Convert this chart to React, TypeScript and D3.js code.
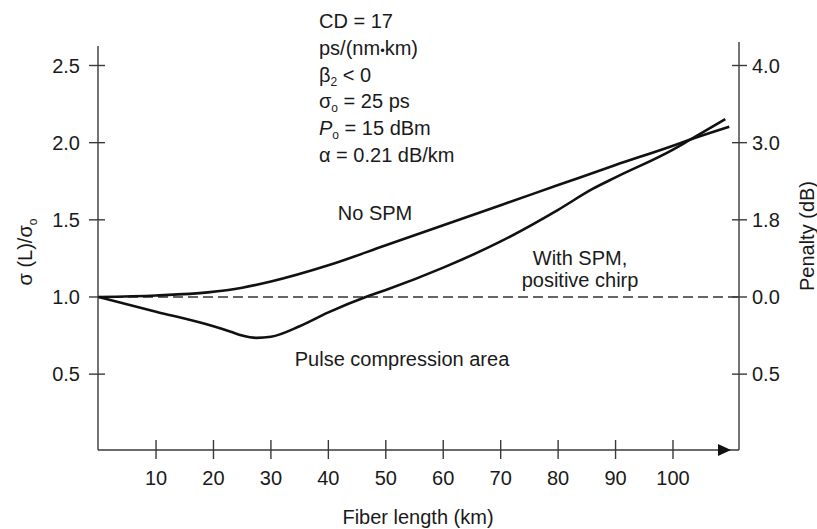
import React from "react";
import * as d3 from "d3";

const xTicks = [10, 20, 30, 40, 50, 60, 70, 80, 90, 100];
const yTicks = [0.5, 1.0, 1.5, 2.0, 2.5];
const yTickLabels = ["0.5", "1.0", "1.5", "2.0", "2.5"];
const rightTickLabels = ["0.5", "0.0", "1.8", "3.0", "4.0"];

const noSpmKm = [0, 10, 19, 25, 30, 40, 50, 60, 70, 80, 90, 100, 103, 109.8];
const noSpm = [1.0, 1.01, 1.03, 1.06, 1.1, 1.205, 1.335, 1.465, 1.595, 1.725, 1.855, 1.98, 2.02, 2.103];

const withSpmKm = [0, 10, 20, 23, 25, 27.5, 30, 35, 40, 46.5, 50, 60, 70, 80, 86, 90, 100, 103, 109.1];
const withSpm = [1.0, 0.905, 0.81, 0.775, 0.75, 0.735, 0.742, 0.81, 0.9, 1.0, 1.045, 1.19, 1.36, 1.565, 1.7, 1.775, 1.955, 2.02, 2.153];

const FONT = "'Liberation Sans', Arial, sans-serif";

export default function App() {
  const W = 817;
  const H = 529;
  const x = d3.scaleLinear().domain([0, 100]).range([98.6, 673]);
  const y = d3.scaleLinear().domain([0, 2.5]).range([451.3, 65.5]);
  const axisL = 98;
  const axisR = 739;
  const axisB = 450;

  const line = d3
    .line<[number, number]>()
    .x((d) => x(d[0]))
    .y((d) => y(d[1]))
    .curve(d3.curveMonotoneX);

  const noSpmPath = line(noSpmKm.map((k, i) => [k, noSpm[i]] as [number, number])) || "";
  const withSpmPath = line(withSpmKm.map((k, i) => [k, withSpm[i]] as [number, number])) || "";

  const axisColor = "#3a3a3a";
  const textColor = "#1a1a1a";
  const fs = 20;
  const annX = 319;
  const annY0 = 28;
  const annDy = 26.8;

  return (
    <svg width={W} height={H} style={{ position: "absolute", left: 0, top: 0 }} fontFamily={FONT}>
      <rect x={0} y={0} width={W} height={H} fill="#ffffff" />
      {/* axes */}
      <line x1={axisL} y1={46} x2={axisL} y2={axisB} stroke={axisColor} strokeWidth={1.4} />
      <line x1={axisR} y1={42} x2={axisR} y2={axisB} stroke={axisColor} strokeWidth={1.4} />
      <line x1={axisL} y1={axisB} x2={axisR} y2={axisB} stroke={axisColor} strokeWidth={1.4} />
      <path d={`M718,${axisB - 6} L731,${axisB} L718,${axisB + 6} Z`} fill="#111" />

      {/* dashed reference */}
      <line
        x1={axisL}
        y1={y(1)}
        x2={axisR}
        y2={y(1)}
        stroke="#333"
        strokeWidth={1.3}
        strokeDasharray="10,5"
      />

      {/* left ticks */}
      {yTicks.map((t, i) => (
        <g key={"l" + t}>
          <line x1={axisL - 9} x2={axisL + 7} y1={y(t)} y2={y(t)} stroke={axisColor} strokeWidth={1.4} />
          <text x={80} y={y(t)} dy="0.35em" textAnchor="end" fontSize={fs} fill={textColor}>
            {yTickLabels[i]}
          </text>
        </g>
      ))}
      {/* right ticks */}
      {yTicks.map((t, i) => (
        <g key={"r" + t}>
          <line x1={axisR - 7} x2={axisR + 8} y1={y(t)} y2={y(t)} stroke={axisColor} strokeWidth={1.4} />
          <text x={752} y={y(t)} dy="0.35em" textAnchor="start" fontSize={fs} fill={textColor}>
            {rightTickLabels[i]}
          </text>
        </g>
      ))}
      {/* bottom ticks */}
      {xTicks.map((t) => (
        <g key={"b" + t}>
          <line x1={x(t)} x2={x(t)} y1={axisB - 10} y2={axisB + 9} stroke={axisColor} strokeWidth={1.4} />
          <text x={x(t)} y={485} textAnchor="middle" fontSize={fs} fill={textColor}>
            {t}
          </text>
        </g>
      ))}

      {/* axis titles */}
      <text x={418} y={524} textAnchor="middle" fontSize={fs} fill={textColor}>
        Fiber length (km)
      </text>
      <text
        transform="translate(32,252) rotate(-90)"
        textAnchor="middle"
        fontSize={fs}
        fill={textColor}
      >
        σ (L)/σ
        <tspan fontSize={12} dy={5}>o</tspan>
      </text>
      <text
        transform="translate(814,236) rotate(-90)"
        textAnchor="middle"
        fontSize={fs}
        fill={textColor}
      >
        Penalty (dB)
      </text>

      {/* curves */}
      <path d={noSpmPath} fill="none" stroke="#111" strokeWidth={2.6} strokeLinejoin="round" />
      <path d={withSpmPath} fill="none" stroke="#111" strokeWidth={2.6} strokeLinejoin="round" />

      {/* annotations */}
      <g fontSize={fs} fill={textColor}>
        <text x={annX} y={annY0}>CD = 17</text>
        <text x={annX} y={annY0 + annDy}>ps/(nm<tspan fontSize={13}>•</tspan>km)</text>
        <text x={annX} y={annY0 + annDy * 2}>
          β<tspan fontSize={12} dy={4}>2</tspan>
          <tspan dy={-4}> &lt; 0</tspan>
        </text>
        <text x={annX} y={annY0 + annDy * 3}>
          σ<tspan fontSize={12} dy={4}>o</tspan>
          <tspan dy={-4}> = 25 ps</tspan>
        </text>
        <text x={annX} y={annY0 + annDy * 4}>
          <tspan fontStyle="italic">P</tspan>
          <tspan fontSize={12} dy={4}>o</tspan>
          <tspan dy={-4}> = 15 dBm</tspan>
        </text>
        <text x={annX} y={annY0 + annDy * 5}>α = 0.21 dB/km</text>

        <text x={375} y={220} textAnchor="middle">No SPM</text>
        <text x={580} y={265} textAnchor="middle">With SPM,</text>
        <text x={580} y={287} textAnchor="middle">positive chirp</text>
        <text x={402} y={366} textAnchor="middle">Pulse compression area</text>
      </g>
    </svg>
  );
}
